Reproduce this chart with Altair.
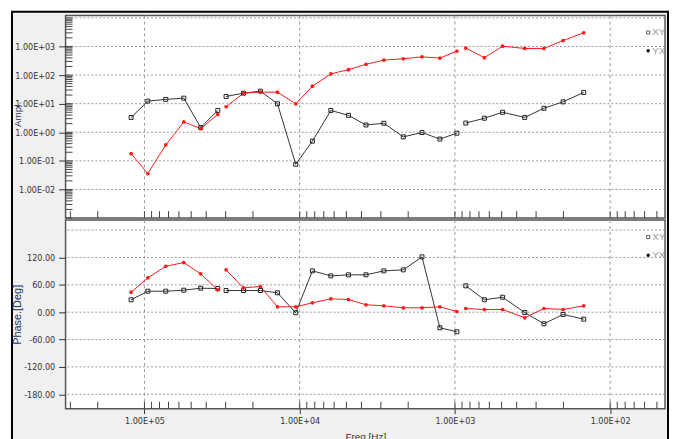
import altair as alt
import pandas as pd

series_names = ["XY", "YX"]
freqs = [121900, 95100, 72900, 55800, 43400, 33700, 29800, 23000, 17900, 13900,
         10600, 8280, 6300, 4850, 3740, 2870, 2150, 1630, 1250, 971,
         851, 646, 493, 355, 267, 201, 148]
bands = [1, 1, 1, 1, 1, 1,
         2, 2, 2, 2, 2, 2, 2, 2, 2, 2, 2, 2, 2, 2,
         3, 3, 3, 3, 3, 3, 3]
xy_amp = [3.3, 12.3, 14.1, 15.6, 1.46, 5.8,
          17.9, 23.3, 27.4, 9.9, 0.076, 0.49, 5.8, 3.9, 1.8, 2.07, 0.69, 0.98, 0.58, 0.93,
          2.1, 3.1, 5.0, 3.3, 6.9, 11.6, 24.7]
yx_amp = [0.178, 0.036, 0.36, 2.3, 1.34, 4.2,
          7.8, 23.3, 25.3, 25.3, 9.9, 40.8, 110, 155, 237, 334, 372, 434, 392, 690,
          877, 405, 1020, 852, 852, 1610, 2990]
xy_phase = [27.2, 46, 46, 48.2, 52.6, 51.9,
            47.5, 47.5, 47.5, 42.5, -1.3, 90.6, 79.6, 81.9, 81.9, 90.6, 92.8, 121.3, -34.2, -42.9,
            57.8, 27.2, 32.8, -0.7, -25.4, -5, -15.3]
yx_phase = [43.8, 75.3, 100.7, 108.8, 84, 49,
            92.8, 53.4, 56.3, 11.8, 11.8, 20.6, 29.3, 27.8, 16.2, 14, 9.6, 9.6, 11.8, 1.5,
            8.1, 5.9, 5.9, -12.3, 8.1, 5.9, 14]

x_decades = [100000, 10000, 1000, 100]
amp_grid = [0.01, 0.1, 1, 10, 100, 1000, 10000]
amp_labels = [0.01, 0.1, 1, 10, 100, 1000]
phase_grid = [-180, -120, -60, 0, 60, 120, 180]
phase_labels = [-180, -120, -60, 0, 60, 120]
x_minor = [k * 10 ** d for d in range(1, 6) for k in range(1, 10) if 44.3 <= k * 10 ** d <= 322000]
amp_minor = [k * 10.0 ** d for d in range(-3, 5) for k in range(1, 10) if k * 10.0 ** d <= 12000]

rows = []
for i, f in enumerate(freqs):
    rows.append({"series": series_names[0], "freq": f, "band": bands[i], "amp": xy_amp[i], "phase": xy_phase[i]})
    rows.append({"series": series_names[1], "freq": f, "band": bands[i], "amp": yx_amp[i], "phase": yx_phase[i]})
df = pd.DataFrame(rows)
one = pd.DataFrame({"k": [0]})

W, H1, H2 = 604, 204, 190
LABEL_FONT = "Liberation Sans Narrow, Arial Narrow, DejaVu Sans Condensed, sans-serif"
TITLE_FONT = "Liberation Sans, Arial, sans-serif"

xscale = alt.Scale(type="log", domain=[44.3, 322300], reverse=True, nice=False)
x_top = alt.X("freq:Q", scale=xscale, axis=None)
x_bot = alt.X("freq:Q", scale=xscale, axis=alt.Axis(
    values=x_decades, labelExpr="'1.00E+0' + round(log(datum.value) / LN10)",
    tickSize=5, tickColor="#333", domain=False, grid=False, labelPadding=3,
    labelFont=LABEL_FONT, labelFontSize=9, labelColor="#333",
    title="Freq.[Hz]", titleFont=TITLE_FONT, titleFontSize=10, titleFontWeight="normal",
    titleColor="#333", titleY=23, titleBaseline="top", zindex=2))

y_top = alt.Y("amp:Q", scale=alt.Scale(type="log", domain=[0.001, 12000], nice=False), axis=alt.Axis(
    values=amp_labels,
    labelExpr="'1.00E' + (datum.value >= 1 ? '+0' : '-0') + abs(round(log(datum.value) / LN10))",
    tickSize=7, tickColor="#333", domain=False, grid=False, labelPadding=4,
    labelFont=LABEL_FONT, labelFontSize=9, labelColor="#333",
    title="Ampl.", titleFont=TITLE_FONT, titleFontSize=10, titleFontWeight="normal",
    titleColor="#223366", titleX=-48, titleY=99, titleAngle=270,
    titleAlign="center", titleBaseline="middle", zindex=2))

y_bot = alt.Y("phase:Q", scale=alt.Scale(domain=[-211.5, 202], nice=False), axis=alt.Axis(
    values=phase_labels, labelExpr="datum.value + '.00'",
    tickSize=7, tickColor="#333", domain=False, grid=False, labelPadding=4,
    labelFont=LABEL_FONT, labelFontSize=9, labelColor="#333",
    title="Phase.[Deg]", titleFont=TITLE_FONT, titleFontSize=11, titleFontWeight="normal",
    titleColor="#223366", titleX=-48, titleY=H2 / 2, titleAngle=270,
    titleAlign="center", titleBaseline="middle", zindex=2))

color_scale = alt.Scale(domain=series_names, range=["#333333", "#ff1a1a"])


def panel(xenc, yenc, yfield, ygrid, height, minor_y, with_frame):
    layers = []
    if with_frame:
        layers.append(alt.Chart(one).mark_rect(fill="#f0f0f0", stroke="black", strokeWidth=2).encode(
            x=alt.value(-54), x2=alt.value(W + 3), y=alt.value(-4), y2=alt.value(432)))
        layers.append(alt.Chart(one).mark_rect(fill="white", stroke="#555", strokeWidth=1.5).encode(
            x=alt.value(0), x2=alt.value(W), y=alt.value(0), y2=alt.value(height)))
    layers.append(alt.Chart(pd.DataFrame({"freq": x_decades})).mark_rule(
        color="#999", strokeDash=[3, 3], strokeWidth=1).encode(x=xenc))
    layers.append(alt.Chart(pd.DataFrame({yfield: ygrid})).mark_rule(
        color="#999", strokeDash=[2, 2], strokeWidth=1).encode(y=yenc))
    layers.append(alt.Chart(pd.DataFrame({"freq": x_minor})).mark_rule(color="#444", strokeWidth=1).encode(
        x=xenc, y=alt.value(height - 7), y2=alt.value(height)))
    if minor_y is not None:
        layers.append(alt.Chart(pd.DataFrame({yfield: minor_y})).mark_rule(color="#444", strokeWidth=1).encode(
            y=yenc, x=alt.value(0), x2=alt.value(7)))
    layers.append(alt.Chart(df).mark_line(strokeWidth=1).encode(
        x=xenc, y=yenc,
        color=alt.Color("series:N", scale=color_scale, legend=None),
        detail="band:N"))
    layers.append(alt.Chart(df).transform_filter(alt.datum.series == series_names[0]).mark_point(
        shape="square", filled=False, size=16, strokeWidth=1, color="#222", opacity=1).encode(x=xenc, y=yenc))
    layers.append(alt.Chart(df).transform_filter(alt.datum.series == series_names[1]).mark_circle(
        size=14, color="#ff1a1a", opacity=1).encode(x=xenc, y=yenc))
    # legend
    ly0 = 17
    ly1 = 35.5
    layers.append(alt.Chart(one).mark_point(shape="square", filled=False, size=10, strokeWidth=1, color="#222").encode(
        x=alt.value(587), y=alt.value(ly0)))
    layers.append(alt.Chart(one).mark_circle(size=12, color="#111", opacity=1).encode(
        x=alt.value(587), y=alt.value(ly1)))
    layers.append(alt.Chart(pd.DataFrame({"s": [series_names[0]]})).mark_text(
        align="left", baseline="middle", font=TITLE_FONT, fontSize=10, color="#999").encode(
        text="s:N", x=alt.value(591), y=alt.value(ly0)))
    layers.append(alt.Chart(pd.DataFrame({"s": [series_names[1]]})).mark_text(
        align="left", baseline="middle", font=TITLE_FONT, fontSize=10, color="#999").encode(
        text="s:N", x=alt.value(591), y=alt.value(ly1)))
    return alt.layer(*layers).properties(width=W, height=height)


top = panel(x_top, y_top, "amp", amp_grid, H1, amp_minor, True)
bottom = panel(x_bot, y_bot, "phase", phase_grid, H2, None, False)

chart = alt.vconcat(top, bottom, spacing=2, bounds="flush").properties(
    padding={"left": 2, "top": 0, "right": 0, "bottom": 0},
    background="white",
).configure_view(fill="white", stroke="#555", strokeWidth=1.5)

chart.save("out.html", embed_options={"renderer": "svg", "actions": False})
